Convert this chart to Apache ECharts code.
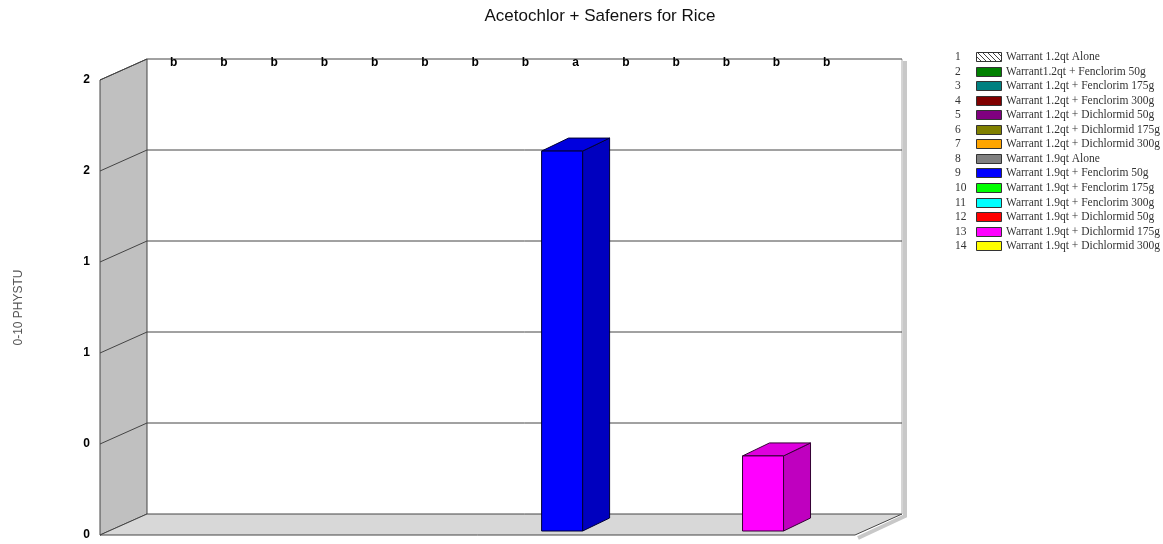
<!DOCTYPE html>
<html>
<head>
<meta charset="utf-8">
<style>
  html, body { margin: 0; padding: 0; background: #fff; }
  #main { width: 1163px; height: 544px; }
</style>
<script src="https://cdn.jsdelivr.net/npm/echarts@6/dist/echarts.min.js"></script>
</head>
<body>
<div id="main"></div>
<script>
// treatments (legend order)
var treatments = ['Warrant 1.2qt Alone', 'Warrant1.2qt + Fenclorim 50g', 'Warrant 1.2qt + Fenclorim 175g',
  'Warrant 1.2qt + Fenclorim 300g', 'Warrant 1.2qt + Dichlormid 50g', 'Warrant 1.2qt + Dichlormid 175g',
  'Warrant 1.2qt + Dichlormid 300g', 'Warrant 1.9qt Alone', 'Warrant 1.9qt + Fenclorim 50g',
  'Warrant 1.9qt + Fenclorim 175g', 'Warrant 1.9qt + Fenclorim 300g', 'Warrant 1.9qt + Dichlormid 50g',
  'Warrant 1.9qt + Dichlormid 175g', 'Warrant 1.9qt + Dichlormid 300g'];
var injury = [0, 0, 0, 0, 0, 0, 0, 0, 1.67, 0, 0, 0, 0.33, 0]; // 0-10 PHYSTU
var letters = ['b', 'b', 'b', 'b', 'b', 'b', 'b', 'b', 'a', 'b', 'b', 'b', 'b', 'b'];
var colors = ['hatch', '#008000', '#008080', '#800000', '#800080', '#808000', '#ffa500',
  '#808080', '#0000ff', '#00ff00', '#00ffff', '#ff0000', '#ff00ff', '#ffff00'];
var yTicks = [0, 0.4, 0.8, 1.2, 1.6, 2.0];

var xMin = -1.0, xMax = 14.03;
var DX = 47, DY = 21;          // depth of the box
var BW = 41, BDX = 27, BDY = 13; // bar front width / bar depth
var OX = 10, OY = 4;           // bar offset into the box

function shade(hex, k) {
  var n = parseInt(hex.slice(1), 16);
  var r = Math.round(((n >> 16) & 255) * k), g = Math.round(((n >> 8) & 255) * k), b = Math.round((n & 255) * k);
  return 'rgb(' + r + ',' + g + ',' + b + ')';
}

// hatch pattern for treatment 1
var hatch = document.createElement('canvas');
hatch.width = 5; hatch.height = 5;
var hc = hatch.getContext('2d');
hc.fillStyle = '#fff'; hc.fillRect(0, 0, 5, 5);
hc.strokeStyle = '#444'; hc.lineWidth = 1;
hc.beginPath(); hc.moveTo(0, 0); hc.lineTo(5, 5); hc.stroke();

var chart = echarts.init(document.getElementById('main'));

// legend built as graphics (number, swatch, label)
var legendItems = [];
treatments.forEach(function (name, i) {
  var y = 57 + i * 14.55;
  legendItems.push({ type: 'text', left: 955, top: y - 6,
    style: { text: String(i + 1), font: '11.5px "Liberation Serif"', fill: '#333' } });
  legendItems.push({ type: 'rect', shape: { x: 976.5, y: Math.round(y) - 4.5, width: 25, height: 9 },
    style: { fill: colors[i] === 'hatch' ? { image: hatch, repeat: 'repeat' } : colors[i], stroke: '#333', lineWidth: 1 } });
  legendItems.push({ type: 'text', left: 1006, top: y - 6,
    style: { text: name, font: '11.5px "Liberation Serif"', fill: '#333' } });
});

var option = {
  animation: false,
  title: {
    text: 'Acetochlor + Safeners for Rice',
    left: 595, top: 3, textAlign: 'center',
    textStyle: { fontFamily: 'Liberation Sans', fontSize: 17, fontWeight: 'normal', color: '#111' }
  },
  grid: { left: 100, right: 308, top: 80, bottom: 9 },
  xAxis: { type: 'value', min: xMin, max: xMax, show: false },
  yAxis: {
    type: 'value', min: 0, max: 2, interval: 0.4,
    name: '0-10 PHYSTU', nameLocation: 'middle', nameGap: 75, nameRotate: 90,
    nameTextStyle: { fontFamily: 'Liberation Sans', fontSize: 12, color: '#555' },
    axisLine: { show: true, onZero: false, lineStyle: { color: '#444', width: 1 } },
    axisTick: { show: false },
    splitLine: { show: false },
    axisLabel: {
      margin: 10, color: '#000', fontWeight: 'bold', fontSize: 12, fontFamily: 'Liberation Sans',
      formatter: function (v) { return String(Math.round(v)); }
    }
  },
  graphic: legendItems,
  series: [
    {
      // box: left wall, floor, back wall gridlines
      type: 'custom', z: 1, silent: true,
      data: [[0, 0]],
      renderItem: function (params, api) {
        var p0 = api.coord([xMin, 0]), p1 = api.coord([xMax, 0]), pt = api.coord([xMin, 2]);
        var kids = [];
        kids.push({ type: 'polygon', shape: { points: [[p0[0], p0[1]], [pt[0], pt[1]], [pt[0] + DX, pt[1] - DY], [p0[0] + DX, p0[1] - DY]] },
          style: { fill: '#c0c0c0', stroke: '#444', lineWidth: 1 } });
        kids.push({ type: 'polyline', shape: { points: [[p1[0] + DX + 3, pt[1] - DY + 2], [p1[0] + DX + 3, p1[1] - DY + 2], [p1[0] + 3, p1[1] + 3]] },
          style: { stroke: '#c8c8c8', lineWidth: 4, fill: null } });
        kids.push({ type: 'polygon', shape: { points: [[p0[0], p0[1]], [p1[0], p1[1]], [p1[0] + DX, p1[1] - DY], [p0[0] + DX, p0[1] - DY]] },
          style: { fill: '#d8d8d8', stroke: '#444', lineWidth: 1 } });
        kids.push({ type: 'line', shape: { x1: p1[0] + DX, y1: pt[1] - DY, x2: p1[0] + DX, y2: p1[1] - DY },
          style: { stroke: '#aaa', lineWidth: 1 } });
        yTicks.forEach(function (v) {
          if (v === 0) return;
          var a = api.coord([xMin, v]), b = api.coord([xMax, v]);
          kids.push({ type: 'polyline', shape: { points: [[a[0], a[1]], [a[0] + DX, a[1] - DY], [b[0] + DX, b[1] - DY]] },
            style: { stroke: '#444', lineWidth: 1, fill: null } });
        });
        return { type: 'group', children: kids };
      }
    },
    {
      // 3D bars with significance letters
      type: 'custom', z: 3, silent: true,
      data: injury.map(function (v, i) { return [i, v]; }),
      renderItem: function (params, api) {
        var i = api.value(0), v = api.value(1);
        var base = api.coord([i, 0]), top = api.coord([i, v]), ceil = api.coord([i, 2]);
        var kids = [];
        var cx = base[0] + OX;
        kids.push({ type: 'text', style: { text: letters[i], x: cx + BDX / 2, y: ceil[1] - DY + 4, align: 'center', verticalAlign: 'middle',
          font: 'bold 12px "Liberation Sans"', fill: '#000' } });
        if (v > 0) {
          var c = colors[i];
          var x0 = cx - BW / 2, x1 = cx + BW / 2, yb = base[1] - OY, yt = top[1] - OY;
          var edge = { stroke: shade(c, 0.2), lineWidth: 1 };
          kids.push({ type: 'polygon', shape: { points: [[x1, yb], [x1, yt], [x1 + BDX, yt - BDY], [x1 + BDX, yb - BDY]] },
            style: Object.assign({ fill: shade(c, 0.75) }, edge) });
          kids.push({ type: 'polygon', shape: { points: [[x0, yt], [x1, yt], [x1 + BDX, yt - BDY], [x0 + BDX, yt - BDY]] },
            style: Object.assign({ fill: shade(c, 0.87) }, edge) });
          kids.push({ type: 'rect', shape: { x: x0, y: yt, width: BW, height: yb - yt },
            style: Object.assign({ fill: c }, edge) });
        }
        return { type: 'group', children: kids };
      }
    }
  ]
};

chart.setOption(option);
window.addEventListener('resize', function () { chart.resize(); });
</script>
</body>
</html>
